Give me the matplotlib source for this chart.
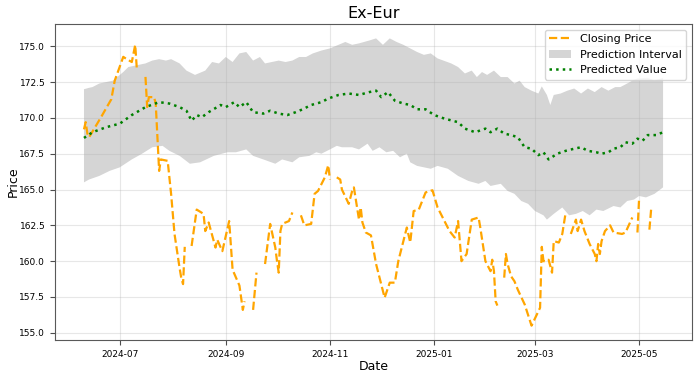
import matplotlib
matplotlib.use('Agg')
import matplotlib.pyplot as plt
import numpy as np
import pandas as pd

nan = np.nan

# Closing price (gaps = missing days)
close_dates = [
    "2024-06-10", "2024-06-11", "2024-06-12", "2024-06-13", "2024-06-20", "2024-06-26",
    "2024-06-28", "2024-07-03", "2024-07-05", "2024-07-08", "2024-07-10", "2024-07-11",
    "2024-07-12", "2024-07-16", "2024-07-17", "2024-07-18", "2024-07-21", "2024-07-22",
    "2024-07-24", "2024-07-25", "2024-07-29", "2024-07-31", "2024-08-02", "2024-08-05",
    "2024-08-06", "2024-08-07", "2024-08-08", "2024-08-09", "2024-08-12", "2024-08-15",
    "2024-08-19", "2024-08-20", "2024-08-22", "2024-08-26", "2024-08-27", "2024-08-30",
    "2024-09-03", "2024-09-05", "2024-09-09", "2024-09-11", "2024-09-12", "2024-09-13",
    "2024-09-17", "2024-09-19", "2024-09-20", "2024-09-24", "2024-09-27", "2024-09-30",
    "2024-10-01", "2024-10-02", "2024-10-03", "2024-10-04", "2024-10-08", "2024-10-10",
    "2024-10-11", "2024-10-15", "2024-10-17", "2024-10-21", "2024-10-23", "2024-10-25",
    "2024-10-28", "2024-10-29", "2024-10-31", "2024-11-01", "2024-11-04", "2024-11-05",
    "2024-11-07", "2024-11-08", "2024-11-12", "2024-11-14", "2024-11-15", "2024-11-18",
    "2024-11-19", "2024-11-20", "2024-11-22", "2024-11-25", "2024-11-28", "2024-12-03",
    "2024-12-06", "2024-12-09", "2024-12-11", "2024-12-16", "2024-12-18", "2024-12-20",
    "2024-12-23", "2024-12-27", "2024-12-31", "2025-01-03", "2025-01-10", "2025-01-13",
    "2025-01-15", "2025-01-17", "2025-01-20", "2025-01-23", "2025-01-27", "2025-01-28",
    "2025-01-31", "2025-02-03", "2025-02-04", "2025-02-05", "2025-02-06", "2025-02-07",
    "2025-02-10", "2025-02-11", "2025-02-12", "2025-02-13", "2025-02-15", "2025-02-17",
    "2025-02-19", "2025-02-23", "2025-02-27", "2025-03-03", "2025-03-04", "2025-03-05",
    "2025-03-06", "2025-03-07", "2025-03-09", "2025-03-11", "2025-03-12", "2025-03-15",
    "2025-03-17", "2025-03-19", "2025-03-20", "2025-03-22", "2025-03-25", "2025-03-26",
    "2025-03-28", "2025-03-30", "2025-04-02", "2025-04-05", "2025-04-06", "2025-04-07",
    "2025-04-08", "2025-04-09", "2025-04-11", "2025-04-14", "2025-04-16", "2025-04-21",
    "2025-04-23", "2025-04-27", "2025-04-28", "2025-04-30", "2025-05-01", "2025-05-02",
    "2025-05-07", "2025-05-08",
]
close_vals = [
    169.2, 169.7, 168.9, 168.65, 170.05, 171.3,
    172.6, 174.26, 174.1, 173.9, 175.1, 173.3,
    nan, 172.86, 170.76, 171.45, 171.45, 171.0,
    166.3, 167.1, 167.0, 164.7, 161.9, 159.5,
    158.8, 158.4, 161.0, nan, 161.06, 163.6,
    163.3, 162.1, 162.7, 160.95, 161.5, 160.7,
    162.8, 159.4, 158.3, 156.6, 157.2, nan,
    156.6, 159.2, nan, 159.8, 162.6, 160.95,
    160.0, 159.2, 162.1, 162.6, 162.8, 163.4,
    nan, 163.2, 162.5, 162.6, 164.7, 164.9,
    165.6, 165.85, 166.7, 165.7, nan, 165.85,
    165.7, 165.0, 164.0, 164.9, 165.15, 162.9,
    163.75, 162.7, 162.0, 161.8, 159.8, 157.45,
    158.5, 158.5, 160.0, 162.35, 161.3, 163.5,
    163.6, 164.8, 164.95, 163.75, 162.1, 161.65,
    162.8, 160.0, 160.5, 162.9, 163.05, 162.35,
    160.0, 159.3, 160.1, 159.3, 157.2, 156.9,
    nan, 158.85, 160.5, 159.8, 158.95, 158.6,
    158.0, 156.98, 155.5, 156.5, 156.75, 161.0,
    160.0, 160.0, 160.1, 159.2, 161.4, 161.3,
    161.9, 163.4, nan, 161.9, 162.9, 162.1,
    162.9, 162.1, 161.2, 160.5, 160.0, 161.2,
    160.5, 161.4, 162.1, 162.5, 162.0, 161.9,
    162.0, 163.05, nan, 162.0, 164.45, nan,
    162.2, 163.6,
]

# Predicted value
pred_dates = [
    "2024-06-10", "2024-06-15", "2024-06-23", "2024-07-01", "2024-07-08", "2024-07-16",
    "2024-07-24", "2024-07-30", "2024-08-05", "2024-08-09", "2024-08-12", "2024-08-15",
    "2024-08-18", "2024-08-22", "2024-08-29", "2024-09-01", "2024-09-06", "2024-09-09",
    "2024-09-13", "2024-09-17", "2024-09-23", "2024-09-27", "2024-10-02", "2024-10-07",
    "2024-10-12", "2024-10-16", "2024-10-21", "2024-10-27", "2024-10-31", "2024-11-06",
    "2024-11-12", "2024-11-18", "2024-11-24", "2024-11-28", "2024-12-01", "2024-12-05",
    "2024-12-09", "2024-12-14", "2024-12-18", "2024-12-22", "2024-12-27", "2025-01-01",
    "2025-01-07", "2025-01-15", "2025-01-19", "2025-01-25", "2025-01-31", "2025-02-03",
    "2025-02-07", "2025-02-11", "2025-02-15", "2025-02-19", "2025-02-23", "2025-02-27",
    "2025-03-03", "2025-03-06", "2025-03-09", "2025-03-14", "2025-03-19", "2025-03-24",
    "2025-03-28", "2025-04-01", "2025-04-06", "2025-04-09", "2025-04-13", "2025-04-16",
    "2025-04-20", "2025-04-23", "2025-04-27", "2025-04-30", "2025-05-03", "2025-05-06",
    "2025-05-11", "2025-05-15",
]
pred_vals = [
    168.6, 169.0, 169.35, 169.6, 170.2, 170.75,
    171.1, 171.0, 170.75, 170.5, 169.8, 170.2,
    170.05, 170.4, 170.9, 170.75, 171.1, 170.75,
    171.1, 170.4, 170.3, 170.5, 170.3, 170.2,
    170.4, 170.6, 170.9, 171.1, 171.35, 171.6,
    171.7, 171.6, 171.8, 171.9, 171.45, 171.8,
    171.2, 171.0, 170.9, 170.6, 170.6, 170.2,
    169.95, 169.7, 169.25, 169.0, 169.25, 169.0,
    169.25, 168.9, 168.8, 168.65, 167.95, 167.85,
    167.4, 167.6, 167.1, 167.5, 167.7, 167.85,
    167.95, 167.7, 167.6, 167.5, 167.6, 167.85,
    167.95, 168.3, 168.2, 168.55, 168.4, 168.8,
    168.8, 169.0,
]

# Prediction interval, upper edge
upper_dates = [
    "2024-06-10", "2024-06-13", "2024-06-15", "2024-06-19", "2024-06-23", "2024-06-27",
    "2024-07-03", "2024-07-06", "2024-07-10", "2024-07-16", "2024-07-20", "2024-07-24",
    "2024-07-28", "2024-07-31", "2024-08-05", "2024-08-09", "2024-08-14", "2024-08-20",
    "2024-08-24", "2024-08-28", "2024-09-01", "2024-09-05", "2024-09-09", "2024-09-13",
    "2024-09-17", "2024-09-21", "2024-09-24", "2024-09-28", "2024-10-02", "2024-10-06",
    "2024-10-10", "2024-10-14", "2024-10-18", "2024-10-22", "2024-10-27", "2024-11-01",
    "2024-11-06", "2024-11-10", "2024-11-14", "2024-11-18", "2024-11-24", "2024-11-28",
    "2024-12-02", "2024-12-06", "2024-12-10", "2024-12-14", "2024-12-18", "2024-12-22",
    "2024-12-26", "2024-12-30", "2025-01-03", "2025-01-11", "2025-01-15", "2025-01-19",
    "2025-01-23", "2025-01-26", "2025-01-29", "2025-02-01", "2025-02-05", "2025-02-09",
    "2025-02-13", "2025-02-17", "2025-02-20", "2025-02-23", "2025-02-27", "2025-03-03",
    "2025-03-05", "2025-03-08", "2025-03-10", "2025-03-12", "2025-03-16", "2025-03-20",
    "2025-03-24", "2025-03-28", "2025-04-01", "2025-04-05", "2025-04-09", "2025-04-13",
    "2025-04-17", "2025-04-20", "2025-04-24", "2025-04-27", "2025-04-30", "2025-05-06",
    "2025-05-10", "2025-05-15",
]
upper_vals = [
    172.0, 172.1, 172.15, 172.4, 172.5, 172.6,
    173.2, 173.55, 173.65, 173.8, 174.0, 174.1,
    174.0, 174.1, 173.8, 173.3, 173.0, 173.3,
    173.9, 173.8, 174.25, 173.9, 174.5, 174.6,
    174.0, 174.25, 173.8, 173.9, 174.0, 173.9,
    174.0, 174.25, 174.25, 174.5, 174.7, 174.85,
    175.1, 175.3, 175.1, 175.2, 175.4, 175.55,
    175.1, 175.55, 175.3, 175.1, 174.85, 174.6,
    174.4, 174.5, 174.15, 173.8, 173.55, 173.1,
    173.3, 172.85, 173.2, 173.0, 173.3, 172.85,
    172.85, 172.4, 172.6, 172.15, 171.9, 171.7,
    172.2, 171.6, 170.9, 171.6, 171.7, 171.9,
    172.05, 171.7, 172.05, 171.8, 172.15, 171.9,
    172.15, 172.15, 172.4, 172.6, 172.75, 172.8,
    172.6, 172.8,
]

# Prediction interval, lower edge
lower_dates = [
    "2024-06-10", "2024-06-13", "2024-06-19", "2024-06-25", "2024-07-01", "2024-07-08",
    "2024-07-14", "2024-07-20", "2024-07-26", "2024-07-30", "2024-08-05", "2024-08-11",
    "2024-08-17", "2024-08-25", "2024-09-02", "2024-09-07", "2024-09-13", "2024-09-17",
    "2024-09-23", "2024-09-30", "2024-10-04", "2024-10-10", "2024-10-14", "2024-10-20",
    "2024-10-24", "2024-10-27", "2024-11-01", "2024-11-05", "2024-11-08", "2024-11-14",
    "2024-11-18", "2024-11-23", "2024-11-26", "2024-11-30", "2024-12-04", "2024-12-08",
    "2024-12-12", "2024-12-16", "2024-12-18", "2024-12-22", "2024-12-26", "2024-12-30",
    "2025-01-03", "2025-01-09", "2025-01-15", "2025-01-21", "2025-01-27", "2025-01-31",
    "2025-02-03", "2025-02-09", "2025-02-13", "2025-02-17", "2025-02-21", "2025-02-25",
    "2025-03-01", "2025-03-06", "2025-03-08", "2025-03-12", "2025-03-17", "2025-03-21",
    "2025-03-25", "2025-03-29", "2025-04-02", "2025-04-06", "2025-04-10", "2025-04-16",
    "2025-04-20", "2025-04-24", "2025-04-28", "2025-05-01", "2025-05-05", "2025-05-10",
    "2025-05-15",
]
lower_vals = [
    165.5, 165.7, 165.95, 166.3, 166.55, 167.1,
    167.5, 167.95, 168.05, 167.7, 167.35, 166.8,
    166.9, 167.35, 167.6, 167.6, 167.8, 167.35,
    167.1, 166.8, 167.1, 166.9, 167.25, 167.35,
    167.6, 167.5, 167.8, 168.05, 167.95, 167.95,
    167.8, 168.2, 167.7, 167.95, 167.6, 167.7,
    167.25, 167.5, 166.9, 166.65, 166.55, 166.45,
    166.65, 166.45, 165.95, 165.6, 165.4, 165.6,
    165.25, 165.4, 164.9, 164.7, 164.2, 164.0,
    163.5, 163.2, 162.9, 163.3, 163.75, 163.2,
    163.3, 163.5, 163.2, 163.6, 163.5, 163.85,
    163.75, 164.2, 164.3, 164.55, 164.45, 164.7,
    165.15,
]

cd = pd.to_datetime(close_dates)
pdts = pd.to_datetime(pred_dates)
ud = pd.to_datetime(upper_dates)
ld = pd.to_datetime(lower_dates)

fig = plt.figure(figsize=(7, 3.78), dpi=100)
ax = fig.add_axes([0.0786, 0.1005, 0.91, 0.836])

ax.plot(cd, close_vals, linestyle='--', color='orange', linewidth=1.6, label='Closing Price')
band_x = list(ud) + list(ld[::-1])
band_y = upper_vals + lower_vals[::-1]
ax.fill(band_x, band_y, color='gray', alpha=0.33, linewidth=0, label='Prediction Interval')
ax.plot(pdts, pred_vals, linestyle=':', color='green', linewidth=1.8, label='Predicted Value')

ax.set_title('Ex-Eur', fontsize=11.5, pad=4)
ax.set_xlabel('Date', fontsize=9, labelpad=1)
ax.set_ylabel('Price', fontsize=9, labelpad=0)
ax.tick_params(labelsize=6.5, color='0.3')
for s in ax.spines.values():
    s.set_edgecolor('0.35')
ax.grid(True, alpha=0.3)
ax.legend(loc='upper right', fontsize=8)

fig.savefig('out.png', dpi=100)
